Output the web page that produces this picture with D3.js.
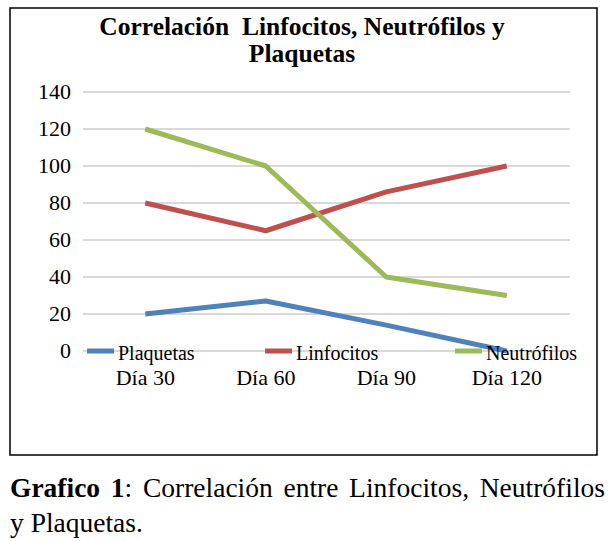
<!DOCTYPE html>
<html><head><meta charset="utf-8">
<script src="https://cdn.jsdelivr.net/npm/d3@7"></script>
<style>body{margin:0;background:#fff}svg{display:block}svg text{font-family:'Liberation Serif','Times New Roman',Times,serif !important;white-space:pre}</style>
</head><body>
<svg id="c" width="610" height="541"></svg>
<script>
const categories = ["Día 30","Día 60","Día 90","Día 120"];
const seriesNames = ["Plaquetas","Linfocitos","Neutrófilos"];
const plaquetas = [20,27,14,0];
const linfocitos = [80,65,86,100];
const neutrofilos = [120,100,40,30];
const yTicks = [0,20,40,60,80,100,120,140];
const colors = ["#4F81BD","#C0504D","#9BBB59"];
const series = [plaquetas, linfocitos, neutrofilos];

const svg = d3.select("#c");
svg.append("rect").attr("x",10).attr("y",8).attr("width",587).attr("height",447)
  .attr("fill","#fff").attr("stroke","#000").attr("stroke-width",1.5);

svg.append("text").attr("x",302).attr("y",35).attr("text-anchor","middle")
  .attr("font-size",25.5).attr("font-weight","bold").text("Correlación  Linfocitos, Neutrófilos y");
svg.append("text").attr("x",302).attr("y",62).attr("text-anchor","middle")
  .attr("font-size",25.5).attr("font-weight","bold").text("Plaquetas");

const x = d3.scaleBand().domain(categories).range([85,567]);
const y = d3.scaleLinear().domain([0,140]).range([351,92]);

const g = svg.append("g");
g.selectAll("line.grid").data(yTicks).join("line").attr("class","grid")
  .attr("x1",83).attr("x2",570).attr("y1",d=>y(d)).attr("y2",d=>y(d))
  .attr("stroke","#d9d9d9").attr("stroke-width",2);

const yAxis = d3.axisLeft(y).tickValues(yTicks).tickSize(0).tickPadding(0);
const ya = svg.append("g").attr("transform","translate(71,0)").call(yAxis);
ya.select(".domain").remove();
ya.selectAll("text").attr("font-size",22).attr("fill","#000").attr("dy","0.3em");

const xAxis = d3.axisBottom(x).tickSize(0).tickPadding(0);
const xa = svg.append("g").attr("transform","translate(0,385)").call(xAxis);
xa.select(".domain").remove();
xa.selectAll("text").attr("font-size",22).attr("fill","#000").attr("dy","0");

const line = d3.line().x((d,i)=>x(categories[i])+x.bandwidth()/2).y(d=>y(d));
series.forEach((s,k)=>{
  svg.append("path").datum(s).attr("d",line).attr("fill","none")
    .attr("stroke",colors[k]).attr("stroke-width",5).attr("stroke-linejoin","round");
});

const legX = [87,265,455];
seriesNames.forEach((n,k)=>{
  svg.append("line").attr("x1",legX[k]).attr("x2",legX[k]+27).attr("y1",351).attr("y2",351)
    .attr("stroke",colors[k]).attr("stroke-width",5);
  svg.append("text").attr("x",legX[k]+31).attr("y",360).attr("font-size",20).text(n);
});

const cap = svg.append("text").attr("x",10).attr("y",497).attr("font-size",27.5);
cap.append("tspan").attr("font-weight","bold").text("Grafico 1");
cap.append("tspan").text(": Correlación entre Linfocitos, Neutrófilos");
const w = cap.node().getComputedTextLength();
const spaces = 5;
cap.attr("word-spacing", Math.max(0,(595 - w)/spaces));
svg.append("text").attr("x",10).attr("y",532).attr("font-size",27.5).text("y Plaquetas.");
</script>
</body></html>
